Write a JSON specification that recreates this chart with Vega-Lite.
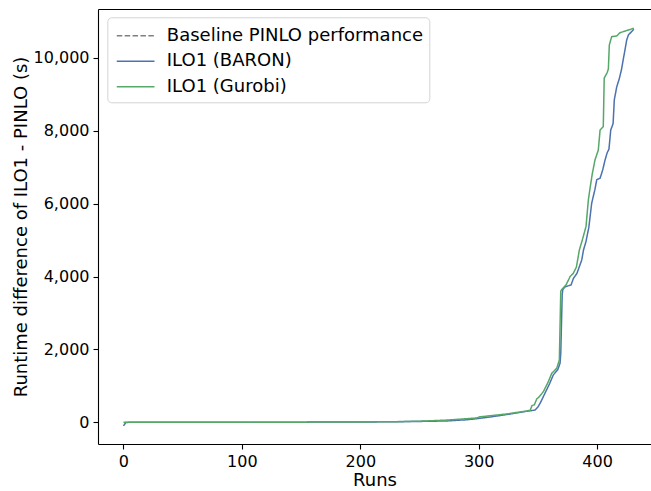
{
  "$schema": "https://vega.github.io/schema/vega-lite/v6.json",
  "width": 553,
  "height": 435,
  "autosize": {"type": "none"},
  "padding": {"left": 98, "top": 9, "right": 0, "bottom": 47},
  "background": "white",
  "config": {
    "view": {"stroke": null},
    "font": "DejaVu Sans",
    "axis": {
      "grid": false,
      "domainColor": "black",
      "domainWidth": 1.1,
      "tickColor": "black",
      "tickWidth": 1.1,
      "tickSize": 5,
      "labelColor": "black",
      "labelFont": "DejaVu Sans",
      "labelFontSize": 16,
      "labelPadding": 4,
      "titleColor": "black",
      "titleFont": "DejaVu Sans",
      "titleFontSize": 18,
      "titleFontWeight": "normal"
    },
    "legend": {
      "labelFont": "DejaVu Sans",
      "labelFontSize": 18,
      "labelColor": "black",
      "labelLimit": 0
    }
  },
  "datasets": {
    "curves": [
      {"run": 0, "value": -100, "series": "ILO1 (BARON)"},
      {"run": 2, "value": -5, "series": "ILO1 (BARON)"},
      {"run": 5, "value": 0, "series": "ILO1 (BARON)"},
      {"run": 50, "value": 1, "series": "ILO1 (BARON)"},
      {"run": 100, "value": 2, "series": "ILO1 (BARON)"},
      {"run": 150, "value": 4, "series": "ILO1 (BARON)"},
      {"run": 200, "value": 8, "series": "ILO1 (BARON)"},
      {"run": 230, "value": 15, "series": "ILO1 (BARON)"},
      {"run": 250, "value": 24, "series": "ILO1 (BARON)"},
      {"run": 273, "value": 36, "series": "ILO1 (BARON)"},
      {"run": 290, "value": 70, "series": "ILO1 (BARON)"},
      {"run": 296, "value": 90, "series": "ILO1 (BARON)"},
      {"run": 301, "value": 110, "series": "ILO1 (BARON)"},
      {"run": 315, "value": 170, "series": "ILO1 (BARON)"},
      {"run": 329, "value": 240, "series": "ILO1 (BARON)"},
      {"run": 340, "value": 300, "series": "ILO1 (BARON)"},
      {"run": 347.5, "value": 335, "series": "ILO1 (BARON)"},
      {"run": 350, "value": 420, "series": "ILO1 (BARON)"},
      {"run": 352, "value": 530, "series": "ILO1 (BARON)"},
      {"run": 356, "value": 800, "series": "ILO1 (BARON)"},
      {"run": 360, "value": 1070, "series": "ILO1 (BARON)"},
      {"run": 363, "value": 1300, "series": "ILO1 (BARON)"},
      {"run": 366.7, "value": 1440, "series": "ILO1 (BARON)"},
      {"run": 368.7, "value": 1620, "series": "ILO1 (BARON)"},
      {"run": 369.3, "value": 1900, "series": "ILO1 (BARON)"},
      {"run": 370.5, "value": 3500, "series": "ILO1 (BARON)"},
      {"run": 371, "value": 3640, "series": "ILO1 (BARON)"},
      {"run": 373, "value": 3720, "series": "ILO1 (BARON)"},
      {"run": 378, "value": 3770, "series": "ILO1 (BARON)"},
      {"run": 380, "value": 3950, "series": "ILO1 (BARON)"},
      {"run": 383, "value": 4090, "series": "ILO1 (BARON)"},
      {"run": 387, "value": 4455, "series": "ILO1 (BARON)"},
      {"run": 388.5, "value": 4730, "series": "ILO1 (BARON)"},
      {"run": 390.5, "value": 4950, "series": "ILO1 (BARON)"},
      {"run": 393, "value": 5350, "series": "ILO1 (BARON)"},
      {"run": 395.4, "value": 6012, "series": "ILO1 (BARON)"},
      {"run": 398.2, "value": 6400, "series": "ILO1 (BARON)"},
      {"run": 399.7, "value": 6660, "series": "ILO1 (BARON)"},
      {"run": 402.5, "value": 6700, "series": "ILO1 (BARON)"},
      {"run": 404.7, "value": 6925, "series": "ILO1 (BARON)"},
      {"run": 406.7, "value": 7200, "series": "ILO1 (BARON)"},
      {"run": 408.5, "value": 7400, "series": "ILO1 (BARON)"},
      {"run": 410, "value": 7500, "series": "ILO1 (BARON)"},
      {"run": 411.5, "value": 8023, "series": "ILO1 (BARON)"},
      {"run": 413.5, "value": 8200, "series": "ILO1 (BARON)"},
      {"run": 414.5, "value": 8847, "series": "ILO1 (BARON)"},
      {"run": 416.5, "value": 9200, "series": "ILO1 (BARON)"},
      {"run": 418.8, "value": 9443, "series": "ILO1 (BARON)"},
      {"run": 420.5, "value": 9671, "series": "ILO1 (BARON)"},
      {"run": 422, "value": 9945, "series": "ILO1 (BARON)"},
      {"run": 425, "value": 10494, "series": "ILO1 (BARON)"},
      {"run": 426.4, "value": 10631, "series": "ILO1 (BARON)"},
      {"run": 431, "value": 10790, "series": "ILO1 (BARON)"},
      {"run": 0, "value": 0, "series": "ILO1 (Gurobi)"},
      {"run": 50, "value": 1, "series": "ILO1 (Gurobi)"},
      {"run": 100, "value": 2, "series": "ILO1 (Gurobi)"},
      {"run": 150, "value": 4, "series": "ILO1 (Gurobi)"},
      {"run": 200, "value": 9, "series": "ILO1 (Gurobi)"},
      {"run": 230, "value": 17, "series": "ILO1 (Gurobi)"},
      {"run": 250, "value": 30, "series": "ILO1 (Gurobi)"},
      {"run": 273, "value": 60, "series": "ILO1 (Gurobi)"},
      {"run": 298, "value": 118, "series": "ILO1 (Gurobi)"},
      {"run": 301, "value": 150, "series": "ILO1 (Gurobi)"},
      {"run": 323.6, "value": 228, "series": "ILO1 (Gurobi)"},
      {"run": 340.5, "value": 310, "series": "ILO1 (Gurobi)"},
      {"run": 343.5, "value": 330, "series": "ILO1 (Gurobi)"},
      {"run": 345, "value": 460, "series": "ILO1 (Gurobi)"},
      {"run": 347, "value": 480, "series": "ILO1 (Gurobi)"},
      {"run": 349, "value": 640, "series": "ILO1 (Gurobi)"},
      {"run": 350.5, "value": 680, "series": "ILO1 (Gurobi)"},
      {"run": 354.6, "value": 840, "series": "ILO1 (Gurobi)"},
      {"run": 358.8, "value": 1114, "series": "ILO1 (Gurobi)"},
      {"run": 361.7, "value": 1345, "series": "ILO1 (Gurobi)"},
      {"run": 365.9, "value": 1482, "series": "ILO1 (Gurobi)"},
      {"run": 368.1, "value": 1710, "series": "ILO1 (Gurobi)"},
      {"run": 369.3, "value": 3600, "series": "ILO1 (Gurobi)"},
      {"run": 370, "value": 3640, "series": "ILO1 (Gurobi)"},
      {"run": 373.7, "value": 3769, "series": "ILO1 (Gurobi)"},
      {"run": 376.5, "value": 3953, "series": "ILO1 (Gurobi)"},
      {"run": 377.1, "value": 3997, "series": "ILO1 (Gurobi)"},
      {"run": 379.9, "value": 4090, "series": "ILO1 (Gurobi)"},
      {"run": 382.5, "value": 4260, "series": "ILO1 (Gurobi)"},
      {"run": 385, "value": 4730, "series": "ILO1 (Gurobi)"},
      {"run": 387.5, "value": 5004, "series": "ILO1 (Gurobi)"},
      {"run": 389.8, "value": 5278, "series": "ILO1 (Gurobi)"},
      {"run": 390.6, "value": 5370, "series": "ILO1 (Gurobi)"},
      {"run": 392.6, "value": 6102, "series": "ILO1 (Gurobi)"},
      {"run": 394, "value": 6423, "series": "ILO1 (Gurobi)"},
      {"run": 396, "value": 6835, "series": "ILO1 (Gurobi)"},
      {"run": 398.2, "value": 7200, "series": "ILO1 (Gurobi)"},
      {"run": 401, "value": 7475, "series": "ILO1 (Gurobi)"},
      {"run": 402.5, "value": 8023, "series": "ILO1 (Gurobi)"},
      {"run": 405.2, "value": 8114, "series": "ILO1 (Gurobi)"},
      {"run": 406, "value": 9450, "series": "ILO1 (Gurobi)"},
      {"run": 408.5, "value": 9600, "series": "ILO1 (Gurobi)"},
      {"run": 409.5, "value": 9700, "series": "ILO1 (Gurobi)"},
      {"run": 410.3, "value": 10357, "series": "ILO1 (Gurobi)"},
      {"run": 412.3, "value": 10585, "series": "ILO1 (Gurobi)"},
      {"run": 416.5, "value": 10604, "series": "ILO1 (Gurobi)"},
      {"run": 419.3, "value": 10695, "series": "ILO1 (Gurobi)"},
      {"run": 431, "value": 10815, "series": "ILO1 (Gurobi)"}
    ]
  },
  "layer": [
    {
      "mark": {"type": "rule", "strokeWidth": 1.5},
      "encoding": {
        "y": {"datum": 0, "type": "quantitative"},
        "color": {"datum": "Baseline PINLO performance", "type": "nominal"},
        "strokeDash": {"datum": "Baseline PINLO performance", "type": "nominal"}
      }
    },
    {
      "data": {"name": "curves"},
      "mark": {"type": "line", "strokeWidth": 1.5},
      "encoding": {
        "x": {
          "field": "run",
          "type": "quantitative",
          "scale": {"domain": [-21.5, 445.5], "nice": false, "zero": false},
          "axis": {"values": [0, 100, 200, 300, 400], "format": "d", "title": "Runs", "titlePadding": 2}
        },
        "y": {
          "field": "value",
          "type": "quantitative",
          "scale": {"domain": [-596, 11345], "nice": false, "zero": false},
          "axis": {"values": [0, 2000, 4000, 6000, 8000, 10000], "format": ",d", "title": "Runtime difference of ILO1 - PINLO (s)", "titlePadding": 3}
        },
        "color": {
          "field": "series",
          "type": "nominal",
          "scale": {
            "domain": ["Baseline PINLO performance", "ILO1 (BARON)", "ILO1 (Gurobi)"],
            "range": ["#808080", "#4c72b0", "#55a868"]
          },
          "legend": {
            "title": null,
            "orient": "none",
            "legendX": 9.3,
            "legendY": 8.3,
            "fillColor": "white",
            "strokeColor": "#d4d4d4",
            "cornerRadius": 4,
            "padding": 6,
            "symbolType": "M-0.77,0H2.44",
            "symbolSize": 552,
            "symbolStrokeWidth": 1.5,
            "labelOffset": 28.5,
            "rowPadding": 3.5
          }
        },
        "strokeDash": {
          "field": "series",
          "type": "nominal",
          "scale": {
            "domain": ["Baseline PINLO performance", "ILO1 (BARON)", "ILO1 (Gurobi)"],
            "range": [[5.5, 2.4], [1, 0], [1, 0]]
          },
          "legend": {"title": null}
        }
      }
    },
    {
      "data": {"name": "curves"},
      "mark": {"type": "line", "opacity": 0},
      "encoding": {
        "x": {
          "field": "run",
          "type": "quantitative",
          "axis": {"orient": "top", "labels": false, "ticks": false, "title": null, "domain": true}
        },
        "y": {"field": "value", "type": "quantitative"}
      }
    }
  ],
  "resolve": {"axis": {"x": "independent"}}
}
